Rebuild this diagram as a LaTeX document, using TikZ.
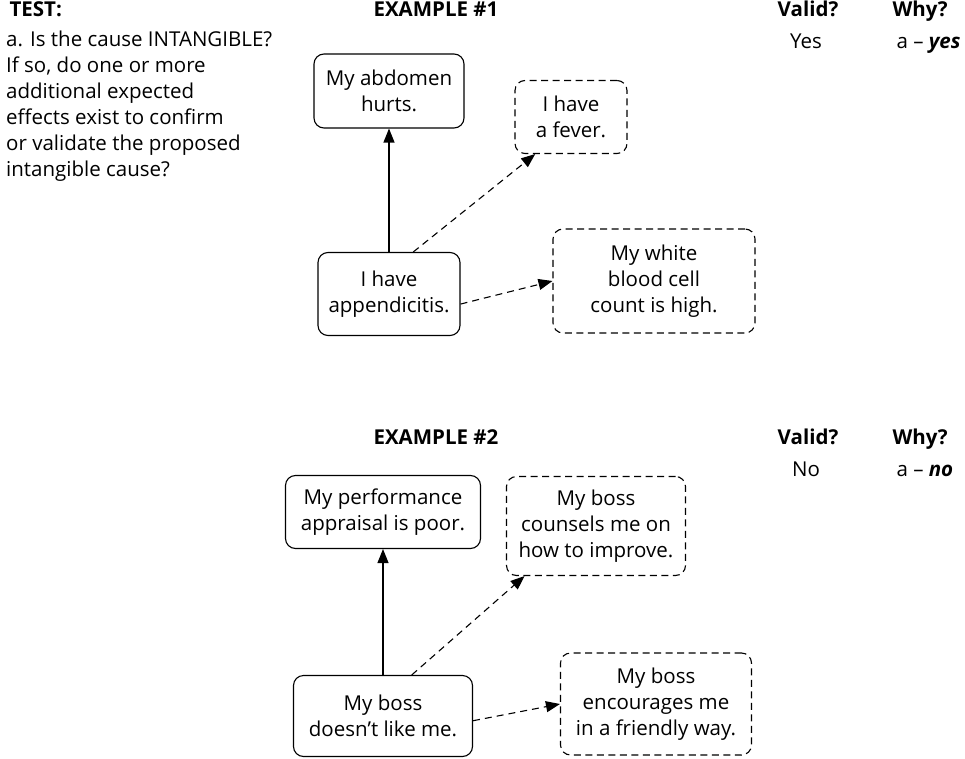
\documentclass[tikz,border=0pt]{standalone}
\usepackage{fontspec}
\setmainfont{Open Sans}
\usetikzlibrary{arrows.meta}

\newcommand{\diagfont}{\fontsize{20.5}{26}\selectfont}

\tikzset{
  cause/.style={draw, line width=1.1pt, rounded corners=10pt, align=center, inner sep=0pt},
  effect/.style={cause, dash pattern=on 7pt off 4.5pt},
  head/.style={anchor=base, font=\diagfont\bfseries},
  link/.style={-{Triangle[width=11pt,length=14pt]}, line width=1.1pt},
  dlink/.style={link, dash pattern=on 7pt off 5pt},
}

\begin{document}
\begin{tikzpicture}[x=1pt, y=-1pt, font=\diagfont]
    \useasboundingbox (0,0) rectangle (965,759);
    %column heads
    \node[head, anchor=base west] (test) at (6,17) {TEST:};
    \node[head] (ex1) at (436,17) {EXAMPLE \#1};
    \node[head] (valid1) at (808,17) {Valid?};
    \node[head, anchor=base west] (why1) at (889,17) {Why?};
    \node[anchor=north west, align=left, inner sep=0pt] (rule) at (6,31)
      {a. Is the cause INTANGIBLE?\\ If so, do one or more\\ additional expected\\
       effects exist to confirm\\ or validate the proposed\\ intangible cause?};
    \node[anchor=base] (yes) at (806,49) {Yes};
    \node[anchor=base west] (whyyes) at (893,49) {a -- \textbf{\textit{yes}}};
    %example 1
    \node[cause, minimum width=150pt, minimum height=74pt] (abd) at (389,91) {My abdomen\\ hurts.};
    \node[effect, minimum width=112pt, minimum height=73pt] (fever) at (571,117) {I have\\ a fever.};
    \node[cause, minimum width=142pt, minimum height=83pt] (app) at (389,294) {I have\\ appendicitis.};
    \node[effect, minimum width=202pt, minimum height=104pt] (white) at (654,281) {My white\\ blood cell\\ count is high.};
    \draw[link] (app) -- (abd);
    \draw[dlink] (app.60) -- (fever.226);
    \draw[dlink] (app.-8) -- (white.180);
    %example 2
    \node[head] (ex2) at (436,444) {EXAMPLE \#2};
    \node[head] (valid2) at (808,444) {Valid?};
    \node[head, anchor=base west] (why2) at (889,444) {Why?};
    \node[anchor=base] (no) at (806,476) {No};
    \node[anchor=base west] (whyno) at (893,476) {a -- \textbf{\textit{no}}};
    \node[cause, minimum width=195pt, minimum height=73pt] (perf) at (383,512) {My performance\\ appraisal is poor.};
    \node[effect, minimum width=179pt, minimum height=99pt] (couns) at (596,526) {My boss\\ counsels me on\\ how to improve.};
    \node[cause, minimum width=179pt, minimum height=81pt] (boss) at (383,716) {My boss\\ doesn’t like me.};
    \node[effect, minimum width=191pt, minimum height=102pt] (enc) at (656,704) {My boss\\ encourages me\\ in a friendly way.};
    \draw[link] (boss) -- (perf);
    \draw[dlink] (boss.55) -- (couns.215);
    \draw[dlink] (boss.-3) -- (enc.180);
\end{tikzpicture}
\end{document}
